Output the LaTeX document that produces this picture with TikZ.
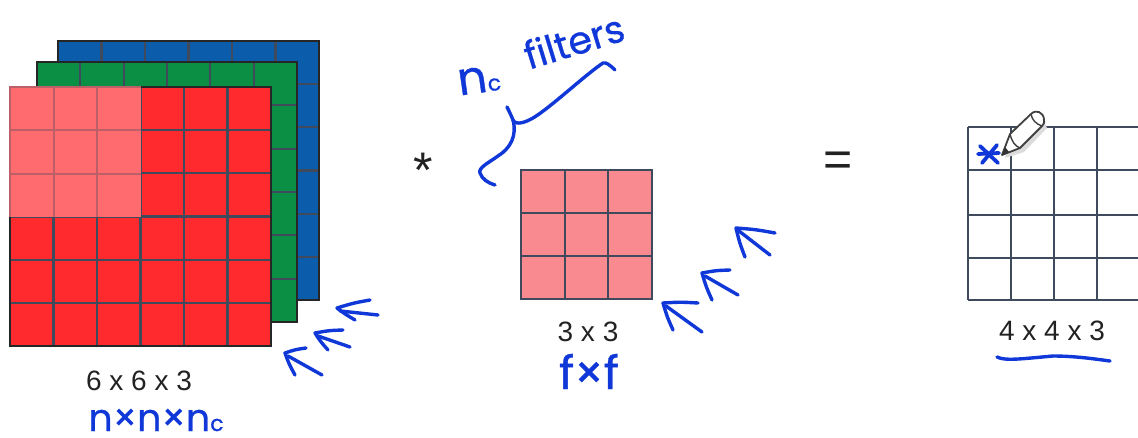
\documentclass[tikz,border=0pt]{standalone}
\usepackage{fontspec}
\setmainfont{Liberation Sans}
\newfontfamily\handfont[FakeBold=0.7]{Poppins}
\definecolor{redcell}{HTML}{FE2A2E}
\definecolor{palecell}{HTML}{FF6B6E}
\definecolor{greencell}{HTML}{0A8F45}
\definecolor{bluecell}{HTML}{0B5CAB}
\definecolor{filtercell}{HTML}{F98B90}
\definecolor{gridline}{HTML}{3F4B5C}
\definecolor{ink}{HTML}{1038D8}
\definecolor{printed}{HTML}{222222}
\tikzset{
  x=1pt,y=-1pt,
  gridrule/.style={draw=gridline,line width=2.2pt},
  frame/.style={draw=black!85,line width=2.4pt},
  softframe/.style={draw=gridline,line width=2.4pt},
  stroke/.style={draw=ink,line width=3.4pt,line cap=round,line join=round},
  printedlabel/.style={inner sep=0pt,text=printed,font=\fontsize{28}{30}\selectfont},
  symbol/.style={inner sep=0pt,text=printed,font=\fontsize{50}{50}\selectfont},
  handlabel/.style={inner sep=0pt,text=ink,font=\handfont\fontsize{38}{40}\selectfont}
}
\newcommand{\smallc}{{\fontsize{22}{22}\selectfont c}}
% hand-drawn arrow: tip, barb, barb, shaft end
\newcommand{\handarrow}[8]{%
  \draw[stroke] (#3,#4) .. controls ({(#1+#3)/2},{(#2+#4)/2-1}) .. (#1,#2) .. controls ({(#1+#5)/2-1},{(#2+#6)/2}) .. (#5,#6);
  \draw[stroke] (#7,#8) -- ({#1+3},{#2+3});
}
% square sheet with cell lines
\newcommand{\sheet}[7]{% x0,y0,x1,y1,fill,n,frame
  \fill[#5] (#1,#2) rectangle (#3,#4);
  \foreach \k in {1,...,\numexpr#6-1\relax}{
    \draw[gridrule] ({#1+(#3-#1)*\k/#6},#2) -- ({#1+(#3-#1)*\k/#6},#4);
    \draw[gridrule] (#1,{#2+(#4-#2)*\k/#6}) -- (#3,{#2+(#4-#2)*\k/#6});
  }
  \draw[#7] (#1,#2) rectangle (#3,#4);
}
\begin{document}
\begin{tikzpicture}
\useasboundingbox (0,0) rectangle (1138,437);
\fill[white] (0,0) rectangle (1138,437);
% stacked input
\sheet{58}{41}{319}{300}{bluecell}{6}{frame}
\sheet{37}{62}{297}{322}{greencell}{6}{frame}
\sheet{10}{87}{271}{346}{redcell}{6}{frame}
% highlighted part
\fill[palecell] (9,86) rectangle (141,217);
\foreach \k in {1,2}{
  \draw[draw=gridline!35!palecell,line width=2pt] ({10+43.5*\k},87) -- ({10+43.5*\k},217);
  \draw[draw=gridline!35!palecell,line width=2pt] (10,{87+43.4*\k}) -- (141,{87+43.4*\k});
}
\draw[draw=gridline!35!palecell,line width=1.2pt] (10,217) -- (10,87) -- (141,87);
\node[printedlabel] (inputlabel) at (139,381) {6 x 6 x 3};
\node[handlabel,anchor=base] (inputhand) at (156,431) {n×n×n\smallc};
\handarrow{285}{353}{306}{348}{295}{375}{322}{375}
\handarrow{315}{333}{343}{330}{328}{350}{350}{347}
\handarrow{337}{308}{370}{300}{355}{320}{378}{315}
% operator
\node[symbol] (star) at (423,170) {*};
% filter
\sheet{521}{170}{652}{299}{filtercell}{3}{softframe}
\node[printedlabel] (filterlabel) at (588,332) {3 x 3};
\node[handlabel,anchor=base,font=\handfont\fontsize{46}{46}\selectfont] (filterhand) at (589,389) {f×f};
\handarrow{663}{303}{698}{303}{673}{330}{702}{332}
\handarrow{702}{273}{730}{270}{712}{300}{738}{295}
\handarrow{736}{228}{775}{233}{745}{257}{770}{255}
% brace
\draw[stroke] (615,70) .. controls (610,65) and (606,62) .. (603,63)
  .. controls (585,75) and (550,108) .. (533,118)
  .. controls (526,122) and (516,126) .. (513,120)
  .. controls (511,115) and (509,111) .. (507,107);
\draw[stroke] (513,120) .. controls (517,135) and (511,148) .. (498,156)
  .. controls (488,163) and (478,168) .. (480,173)
  .. controls (482,179) and (488,183) .. (495,185);
\node[handlabel,rotate=8,font=\handfont\fontsize{46}{46}\selectfont] (ncmark) at (479,80) {n\smallc};
\node[handlabel,rotate=17] (filterword) at (574,41) {filters};
% equals
\node[symbol] (equals) at (838,164) {=};
% output
\foreach \xx in {968,1011,1054,1097}{\draw[gridrule] (\xx,127) -- (\xx,300);}
\foreach \yy in {127,170,215,258,300}{\draw[gridrule] (968,\yy) -- (1138,\yy);}
\node[printedlabel] (outputlabel) at (1052,331) {4 x 4 x 3};
\draw[stroke] (997,357) .. controls (1005,361) and (1020,359) .. (1053,356) .. controls (1075,356) and (1095,359) .. (1110,361);
% blue mark in the first cell
\draw[stroke,line width=3.8pt] (980,146) -- (998,163);
\draw[stroke,line width=3.8pt] (997,145) -- (982,163);
\draw[stroke,line width=3.8pt] (978,154) -- (999,153);
% pencil cursor
\path[fill=black!14] (1005,158) -- (1024,152) -- (1047,128) -- (1040,112) -- (1012,138) -- cycle;
\draw[fill=white,draw=black!75,line width=1.8pt,line join=round]
  (1002,155) -- (1010,134) -- (1031,114)
  .. controls (1036,109) and (1043,112) .. (1044,119)
  .. controls (1045,122) and (1044,124) .. (1042,126)
  -- (1020,148) -- cycle;
\draw[draw=black!75,line width=1.4pt] (1010,134) .. controls (1012,142) and (1015,146) .. (1020,148);
\draw[draw=black!75,line width=1.4pt] (1031,114) .. controls (1032,120) and (1036,124) .. (1042,126);
\fill[black!80] (1002,155) -- (1005,147) -- (1009,152) -- cycle;
\end{tikzpicture}
\end{document}
